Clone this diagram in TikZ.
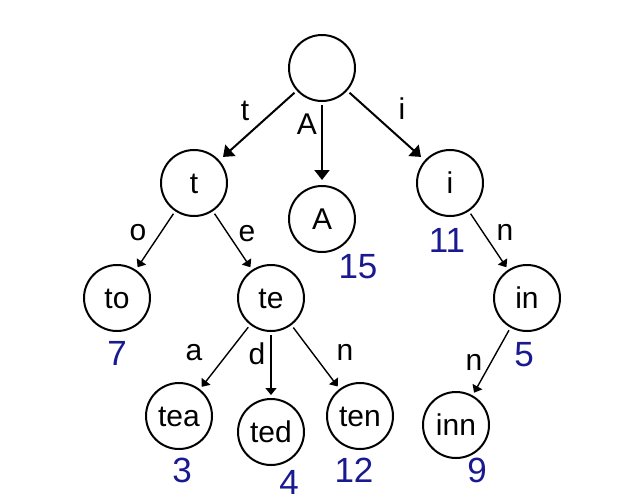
\documentclass[tikz,border=0pt]{standalone}
\usepackage{fontspec}
\setmainfont{Liberation Sans}
\usetikzlibrary{arrows.meta}
\definecolor{numblue}{RGB}{25,25,145}
\begin{document}
\begin{tikzpicture}[x=1pt,y=-1pt,
  tnode/.style={circle,draw,line width=2pt,minimum size=66pt,inner sep=0pt,
    font=\fontsize{30}{30}\selectfont,text height=21.5pt,text depth=0pt},
  bigedge/.style={line width=2pt,-{Triangle[length=10pt,width=15pt]},shorten <=3pt,shorten >=5pt},
  smalledge/.style={line width=1.4pt,-{Triangle[length=7pt,width=11pt]},shorten <=3pt,shorten >=3pt},
  elabel/.style={anchor=base,inner sep=0pt,font=\fontsize{30}{30}\selectfont},
  num/.style={anchor=base,inner sep=0pt,text=numblue,font=\fontsize{35}{35}\selectfont}]
\useasboundingbox[fill=white] (0,0) rectangle (618,499);
% nodes
\node[tnode] (root) at (322,68) {};
\node[tnode] (t) at (194,183) {t};
\node[tnode] (A) at (322,219) {A};
\node[tnode] (i) at (450,183) {i};
\node[tnode] (to) at (117,298) {to};
\node[tnode] (te) at (271,298) {te};
\node[tnode] (in) at (527,298) {in};
\node[tnode] (tea) at (179,416) {tea};
\node[tnode] (ted) at (271,432) {ted};
\node[tnode] (ten) at (360,416) {ten};
\node[tnode] (inn) at (456,425) {inn};
% edges
\draw[bigedge] (root) -- (t);
\draw[bigedge] (root) -- (A);
\draw[bigedge] (root) -- (i);
\draw[smalledge] (t) -- (to);
\draw[smalledge] (t) -- (te);
\draw[smalledge] (i) -- (in);
\draw[smalledge] (te) -- (tea);
\draw[smalledge] (te) -- (ted);
\draw[smalledge] (te) -- (ten);
\draw[smalledge] (in) -- (inn);
% edge labels
\node[elabel] (lt) at (245,120) {t};
\node[elabel] (lA) at (307,134) {A};
\node[elabel] (li) at (402,119) {i};
\node[elabel] (lo) at (138,240) {o};
\node[elabel] (le) at (247,241) {e};
\node[elabel] (ln1) at (505,240) {n};
\node[elabel] (la) at (194,360) {a};
\node[elabel] (ld) at (257,364) {d};
\node[elabel] (ln2) at (345,360) {n};
\node[elabel] (ln3) at (474,370) {n};
% values
\node[num] (v15) at (358,278) {15};
\node[num] (v11) at (447,252) {11};
\node[num] (v7) at (117,365) {7};
\node[num] (v5) at (524,366) {5};
\node[num] (v3) at (182,482) {3};
\node[num] (v4) at (289,494) {4};
\node[num] (v12) at (354,482) {12};
\node[num] (v9) at (477,482) {9};
\end{tikzpicture}
\end{document}
